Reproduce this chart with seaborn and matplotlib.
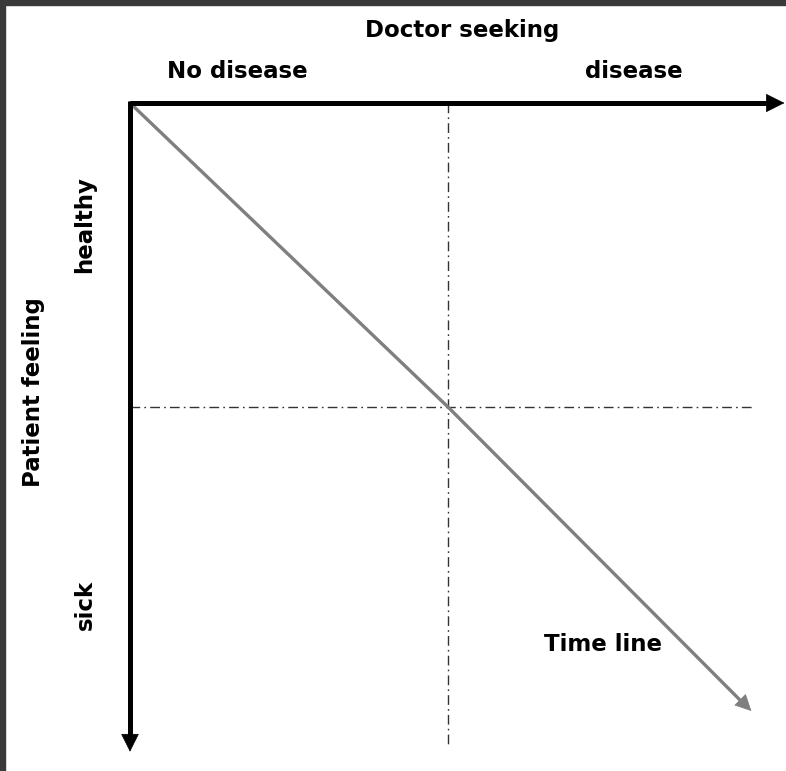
# Doctor seeking vs patient feeling diagram
import matplotlib.pyplot as plt
from matplotlib.patches import Rectangle
import seaborn as sns

sns.set_theme(style='white')
plt.rcParams['font.family'] = ['DejaVu Sans']

# conceptual data: 0 = no disease / healthy, 1 = disease / sick
threshold = 0.5
timeline_x = [0.0, 0.5, 0.977]
timeline_y = [0.0, 0.5, 1.0]
axis_x_end = 1.029
axis_y_end = 1.067
guide_v_end = 1.056
guide_h_end = 0.983

x_labels = ['No disease', 'disease']
x_label_pos = [0.168, 0.792]
y_labels = ['healthy', 'sick']
y_label_pos = [0.200, 0.826]

fig = plt.figure(figsize=(7.86, 7.71), dpi=100)
ax = fig.add_axes([0, 0, 1, 1])
ax.set_xlim(-130 / 636, 656 / 636)
ax.set_ylim(668 / 608, -103 / 608)
ax.axis('off')


def head(ax, x0, y0, x1, y1, color, size):
    # solid triangular arrow head at (x1, y1)
    ax.annotate('', xy=(x1, y1), xytext=(x0, y0),
                arrowprops=dict(arrowstyle='-|>', color=color, lw=0.5,
                                mutation_scale=size, shrinkA=0, shrinkB=0))


# dash-dot guides
ax.plot([threshold, threshold], [0, guide_v_end], color='#333333', lw=1.0,
        dashes=(7, 3, 1.2, 3))
ax.plot([0, guide_h_end], [threshold, threshold], color='#333333', lw=1.0,
        dashes=(7, 3, 1.2, 3))

# time line
sns.lineplot(x=timeline_x[:-1] + [timeline_x[-1] - 0.015],
             y=timeline_y[:-1] + [timeline_y[-1] - 0.015],
             color='#7f7f7f', lw=2.4, ax=ax, sort=False, estimator=None)
head(ax, timeline_x[-2], timeline_y[-2], timeline_x[-1], timeline_y[-1],
     '#7f7f7f', 27)

# main axes arrows
ax.plot([0, axis_x_end - 0.018], [0, 0], color='black', lw=3.6,
        solid_capstyle='butt')
head(ax, 0, 0, axis_x_end, 0, 'black', 31)
ax.plot([0, 0], [-0.004, axis_y_end - 0.018], color='black', lw=3.6,
        solid_capstyle='butt')
head(ax, 0, 0, 0, axis_y_end, 'black', 30)

fs = 16.5
ax.text(0.522, -0.120, 'Doctor seeking', ha='center', va='center',
        fontsize=fs, fontweight='bold', color='black')
for lab, p in zip(x_labels, x_label_pos):
    ax.text(p, -0.051, lab, ha='center', va='center', fontsize=fs,
            fontweight='bold', color='black')
for lab, p in zip(y_labels, y_label_pos):
    ax.text(-0.0708, p, lab, ha='center', va='center', rotation=90,
            fontsize=fs, fontweight='bold', color='black')
ax.text(-0.1525, 0.475, 'Patient feeling', ha='center', va='center',
        rotation=90, fontsize=fs, fontweight='bold', color='black')
ax.text(0.744, 0.891, 'Time line', ha='center', va='center', fontsize=fs,
        fontweight='bold', color='black')

# dark frame on top and left edges
fig.patches.append(Rectangle((0, 1 - 5 / 771), 1, 5 / 771,
                             transform=fig.transFigure, color='#3a3a3a'))
fig.patches.append(Rectangle((0, 0), 5 / 786, 1,
                             transform=fig.transFigure, color='#3a3a3a'))

fig.savefig('out.png', dpi=100)
